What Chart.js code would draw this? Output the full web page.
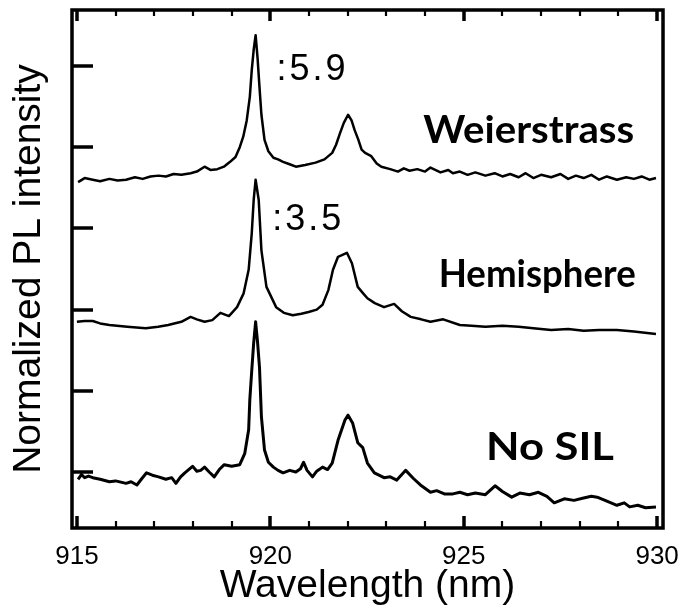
<!DOCTYPE html>
<html>
<head>
<meta charset="utf-8">
<script src="https://cdn.jsdelivr.net/npm/chart.js@4/dist/chart.umd.min.js"></script>
<style>
  html, body { margin: 0; padding: 0; background: #ffffff; }
  #wrap { width: 692px; height: 610px; }
</style>
</head>
<body>
<div id="wrap"><canvas id="c" width="692" height="610"></canvas></div>
<script>
// ---- Data (wavelength in nm, normalized PL intensity, offset per trace) ----
const xTickLabels = [915, 920, 925, 930];
const yTickValues = [0, 1, 2, 3, 4, 5];

const weierstrassNm = [915.03, 915.2, 915.41, 915.6, 915.84, 916.05, 916.27, 916.5, 916.7, 916.9, 917.11, 917.3, 917.5, 917.7, 917.94, 918.1, 918.3, 918.45, 918.63, 918.8, 918.96, 919.1, 919.21, 919.3, 919.39, 919.47, 919.52, 919.57, 919.62, 919.67, 919.72, 919.77, 919.85, 919.95, 920.08, 920.2, 920.33, 920.5, 920.66, 920.9, 921.17, 921.4, 921.6, 921.7, 921.8, 921.9, 922.01, 922.1, 922.18, 922.27, 922.36, 922.45, 922.61, 922.75, 922.87, 923.1, 923.3, 923.45, 923.6, 923.8, 924.0, 924.14, 924.4, 924.6, 924.72, 924.9, 925.1, 925.3, 925.56, 925.8, 926.0, 926.2, 926.42, 926.6, 926.8, 927.0, 927.26, 927.5, 927.7, 927.9, 928.1, 928.3, 928.5, 928.7, 928.96, 929.2, 929.4, 929.6, 929.8, 929.97];
const weierstrassVal = [3.57, 3.62, 3.60, 3.58, 3.61, 3.59, 3.60, 3.63, 3.61, 3.64, 3.65, 3.64, 3.67, 3.66, 3.68, 3.70, 3.76, 3.72, 3.73, 3.76, 3.82, 3.88, 4.00, 4.13, 4.33, 4.62, 4.95, 5.20, 5.38, 5.10, 4.74, 4.40, 4.09, 3.95, 3.87, 3.85, 3.82, 3.79, 3.76, 3.78, 3.81, 3.85, 3.93, 4.03, 4.17, 4.30, 4.40, 4.33, 4.21, 4.10, 3.97, 3.93, 3.89, 3.80, 3.76, 3.73, 3.70, 3.74, 3.71, 3.73, 3.70, 3.75, 3.69, 3.72, 3.68, 3.70, 3.66, 3.69, 3.65, 3.68, 3.64, 3.67, 3.63, 3.68, 3.62, 3.66, 3.63, 3.67, 3.61, 3.65, 3.62, 3.66, 3.60, 3.64, 3.60, 3.63, 3.61, 3.64, 3.60, 3.62];

const hemisphereNm = [915.0, 915.2, 915.41, 915.6, 915.84, 916.3, 916.78, 917.1, 917.36, 917.7, 917.94, 918.1, 918.3, 918.5, 918.71, 918.93, 919.14, 919.31, 919.44, 919.52, 919.57, 919.62, 919.7, 919.77, 919.9, 920.15, 920.35, 920.58, 920.8, 920.99, 921.2, 921.35, 921.5, 921.62, 921.75, 921.85, 921.98, 922.11, 922.26, 922.4, 922.51, 922.7, 922.94, 923.2, 923.4, 923.63, 923.9, 924.14, 924.47, 924.9, 925.2, 925.56, 926.0, 926.42, 926.8, 927.26, 927.7, 928.1, 928.5, 928.96, 929.4, 929.97];
const hemisphereVal = [1.85, 1.86, 1.86, 1.83, 1.81, 1.79, 1.77, 1.79, 1.81, 1.85, 1.91, 1.88, 1.85, 1.87, 1.96, 1.92, 2.03, 2.20, 2.49, 2.94, 3.35, 3.60, 3.35, 2.73, 2.28, 2.03, 1.96, 1.93, 1.95, 1.97, 2.00, 2.06, 2.24, 2.49, 2.65, 2.67, 2.70, 2.57, 2.28, 2.20, 2.14, 2.08, 2.03, 2.07, 1.98, 1.91, 1.88, 1.85, 1.88, 1.81, 1.80, 1.79, 1.80, 1.79, 1.77, 1.75, 1.76, 1.74, 1.75, 1.75, 1.73, 1.70];

const noSilNm = [915.03, 915.12, 915.2, 915.3, 915.41, 915.6, 915.84, 916.0, 916.27, 916.4, 916.55, 916.68, 916.8, 916.95, 917.11, 917.3, 917.45, 917.56, 917.68, 917.79, 917.99, 918.1, 918.2, 918.3, 918.42, 918.55, 918.68, 918.81, 919.0, 919.21, 919.34, 919.44, 919.47, 919.52, 919.57, 919.62, 919.67, 919.72, 919.77, 919.85, 919.95, 920.08, 920.2, 920.33, 920.5, 920.66, 920.78, 920.86, 920.95, 921.09, 921.2, 921.35, 921.48, 921.6, 921.75, 921.93, 922.01, 922.13, 922.26, 922.39, 922.51, 922.69, 922.94, 923.1, 923.27, 923.5, 923.7, 923.88, 924.14, 924.3, 924.5, 924.72, 924.9, 925.1, 925.3, 925.56, 925.81, 926.0, 926.24, 926.45, 926.7, 926.93, 927.15, 927.34, 927.6, 927.85, 928.1, 928.3, 928.45, 928.7, 928.96, 929.15, 929.29, 929.5, 929.7, 929.97];
const noSilVal = [-0.09, -0.03, -0.07, -0.05, -0.07, -0.09, -0.12, -0.11, -0.14, -0.12, -0.16, -0.08, -0.01, -0.04, -0.06, -0.09, -0.07, -0.14, -0.06, -0.01, 0.07, 0.01, 0.02, 0.06, 0.00, -0.06, 0.03, 0.09, 0.07, 0.09, 0.23, 0.52, 0.89, 1.25, 1.59, 1.85, 1.60, 1.29, 0.68, 0.27, 0.12, 0.06, 0.02, -0.01, 0.02, 0.00, 0.04, 0.12, 0.02, -0.06, 0.01, 0.06, 0.03, 0.11, 0.39, 0.64, 0.70, 0.60, 0.36, 0.30, 0.11, -0.01, -0.07, -0.06, -0.10, 0.02, -0.08, -0.16, -0.25, -0.23, -0.27, -0.27, -0.25, -0.28, -0.26, -0.28, -0.17, -0.24, -0.31, -0.26, -0.28, -0.25, -0.30, -0.38, -0.33, -0.35, -0.32, -0.30, -0.31, -0.36, -0.41, -0.38, -0.43, -0.41, -0.44, -0.43];

const traceLabels = ['Weierstrass', 'Hemisphere', 'No SIL'];
const ratioLabels = [':5.9', ':3.5'];

function pairs(xs, ys) { return xs.map((x, i) => ({ x: x, y: ys[i] })); }

const X_MIN = 914.873, X_MAX = 930.152, Y_MIN = -0.69, Y_MAX = 5.69;

const decoPlugin = {
  id: 'deco',
  afterDatasetsDraw(chart) {
    const ctx = chart.ctx, a = chart.chartArea;
    const xs = chart.scales.x, ys = chart.scales.y;
    ctx.save();
    ctx.strokeStyle = '#000';
    ctx.lineCap = 'butt';
    // y ticks (inward, left only)
    ctx.lineWidth = 3.5;
    yTickValues.forEach(v => {
      const py = Math.round(ys.getPixelForValue(v));
      ctx.beginPath(); ctx.moveTo(a.left, py); ctx.lineTo(a.left + 21, py); ctx.stroke();
    });
    // x ticks, bottom and top, every nm; majors at labelled values
    for (let w = 915; w <= 930; w++) {
      const px = Math.round(xs.getPixelForValue(w));
      const major = xTickLabels.includes(w);
      ctx.lineWidth = major ? 3.5 : 2.2;
      const lb = major ? 12 : 7, lt = major ? 11 : 6;
      ctx.beginPath(); ctx.moveTo(px, a.bottom); ctx.lineTo(px, a.bottom - lb); ctx.stroke();
      ctx.beginPath(); ctx.moveTo(px, a.top); ctx.lineTo(px, a.top + lt); ctx.stroke();
    }
    // frame
    ctx.lineWidth = 3.5;
    ctx.strokeRect(a.left, a.top, a.right - a.left, a.bottom - a.top);

    // annotations
    ctx.fillStyle = '#000';
    ctx.textBaseline = 'alphabetic';
    ctx.font = '36px "Liberation Sans", Arial, sans-serif';
    ctx.textAlign = 'left';
    const rat = [[920.16, 4.83], [920.05, 2.98]];
    ratioLabels.forEach((t, i) => {
      const px = xs.getPixelForValue(rat[i][0]), py = ys.getPixelForValue(rat[i][1]);
      let cx = px;
      for (const ch of t) { ctx.fillText(ch, cx, py); cx += ctx.measureText(ch).width + 3; }
    });
    ctx.font = 'bold 38px "Comic Sans MS", Lato, "Noto Sans", sans-serif';
    ctx.textAlign = 'center';
    // [centre wavelength, baseline value, target width in px]
    const lab = [[926.68, 4.05, 211], [926.9, 2.28, 197], [927.23, 0.15, 128]];
    traceLabels.forEach((t, i) => {
      const px = xs.getPixelForValue(lab[i][0]), py = ys.getPixelForValue(lab[i][1]);
      const w = ctx.measureText(t).width;
      const sx = Math.max(0.85, Math.min(1.25, lab[i][2] / w));
      ctx.save();
      ctx.translate(px, py);
      ctx.scale(sx, 1);
      ctx.fillText(t, 0, 0);
      ctx.restore();
    });
    ctx.restore();
  }
};

const lineStyle = { borderColor: '#000', pointRadius: 0, fill: false, tension: 0, borderJoinStyle: 'round' };

new Chart(document.getElementById('c'), {
  type: 'line',
  data: {
    datasets: [
      Object.assign({ label: traceLabels[0], data: pairs(weierstrassNm, weierstrassVal), borderWidth: 2.5 }, lineStyle),
      Object.assign({ label: traceLabels[1], data: pairs(hemisphereNm, hemisphereVal), borderWidth: 2.5 }, lineStyle),
      Object.assign({ label: traceLabels[2], data: pairs(noSilNm, noSilVal), borderWidth: 3 }, lineStyle)
    ]
  },
  options: {
    responsive: false,
    animation: false,
    devicePixelRatio: 1,
    layout: { padding: { left: 0, top: 10, right: 18, bottom: 0 } },
    plugins: { legend: { display: false }, tooltip: { enabled: false } },
    scales: {
      x: {
        type: 'linear', min: X_MIN, max: X_MAX,
        grid: { display: false, drawTicks: false },
        border: { display: false },
        afterBuildTicks: s => { s.ticks = xTickLabels.map(v => ({ value: v })); },
        afterFit: s => { s.height = 82; },
        ticks: { color: '#000', padding: 13, maxRotation: 0, font: { family: '"Liberation Sans", Arial, sans-serif', size: 26 } },
        title: { display: true, text: 'Wavelength (nm)', color: '#000', padding: { top: 0, bottom: 0 }, font: { family: '"Liberation Sans", Arial, sans-serif', size: 39 } }
      },
      y: {
        type: 'linear', min: Y_MIN, max: Y_MAX,
        grid: { display: false, drawTicks: false },
        border: { display: false },
        afterBuildTicks: s => { s.ticks = yTickValues.map(v => ({ value: v })); },
        afterFit: s => { s.width = 72; },
        ticks: { display: false },
        title: { display: true, text: 'Normalized PL intensity', color: '#000', padding: { top: 6, bottom: 0 }, font: { family: '"Liberation Sans", Arial, sans-serif', size: 39 } }
      }
    }
  },
  plugins: [decoPlugin]
});
</script>
</body>
</html>
